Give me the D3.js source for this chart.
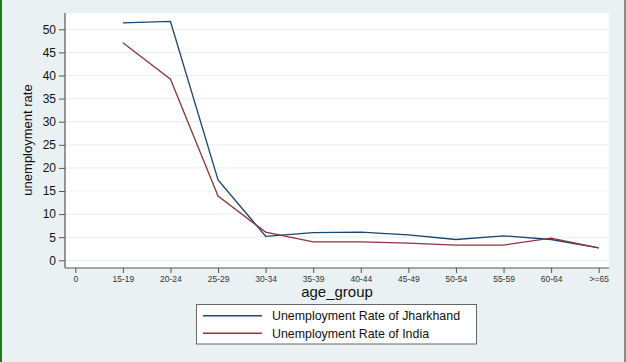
<!DOCTYPE html>
<html>
<head>
<meta charset="utf-8">
<script src="https://cdn.jsdelivr.net/npm/d3@7"></script>
<style>
body{margin:0;padding:0;background:#fff;}
svg{display:block;font-family:"Liberation Sans",Arial,sans-serif;}
</style>
</head>
<body>
<script>
// age groups on the x axis ("0" is the empty first tick)
var tickLabels = ["0","15-19","20-24","25-29","30-34","35-39","40-44","45-49","50-54","55-59","60-64",">=65"];
var groups = ["15-19","20-24","25-29","30-34","35-39","40-44","45-49","50-54","55-59","60-64",">=65"];
var jharkhand = [51.4,51.7,17.4,5.2,6.0,6.1,5.5,4.5,5.3,4.5,2.7];
var india = [47.1,39.2,13.9,6.1,4.0,4.0,3.7,3.3,3.3,4.8,2.7];
var yTicks = [0,5,10,15,20,25,30,35,40,45,50];
var seriesNames = ["Unemployment Rate of Jharkhand","Unemployment Rate of India"];
var colors = ["#1a476f","#90353b"];

var width = 626, height = 362;
var plot = {left:65, right:609, top:13, bottom:268};

var svg = d3.select("body").append("svg")
    .attr("width",width)
    .attr("height",height);

svg.append("rect").attr("width",width).attr("height",height).attr("fill","#eaf1f3");
svg.append("rect").attr("x",0).attr("y",0).attr("width",2).attr("height",height).attr("fill","#1e7a1e");
svg.append("rect").attr("x",624).attr("y",0).attr("width",2).attr("height",height).attr("fill","#8a8a8a");

svg.append("rect")
    .attr("x",plot.left).attr("y",plot.top)
    .attr("width",plot.right-plot.left).attr("height",plot.bottom-plot.top)
    .attr("fill","#fff");

var x = d3.scaleLinear().domain([0,11]).range([75.3,598.7]);
var y = d3.scaleLinear().domain([0,50]).range([260.3,29.3]);

// gridlines
svg.append("g")
    .selectAll("line")
    .data(yTicks).enter()
    .append("line")
    .attr("x1",plot.left+1).attr("x2",plot.right)
    .attr("y1",function(d){return y(d);})
    .attr("y2",function(d){return y(d);})
    .attr("stroke","#eaf1f3")
    .attr("stroke-width",1.2);

// y axis
var yAxis = svg.append("g")
    .attr("transform","translate("+plot.left+",0)")
    .call(d3.axisLeft(y).tickValues(yTicks).tickSize(6).tickPadding(3));
yAxis.select(".domain").attr("d","M0,"+plot.top+"V"+plot.bottom).attr("stroke","#555").attr("stroke-width",1.2);
yAxis.selectAll(".tick line").attr("stroke","#555");
yAxis.selectAll(".tick text").attr("font-size",12).attr("fill","#111");

// x axis
var xAxis = svg.append("g")
    .attr("transform","translate(0,"+plot.bottom+")")
    .call(d3.axisBottom(x).tickValues(d3.range(tickLabels.length))
        .tickFormat(function(i){return tickLabels[i];}).tickSize(5).tickPadding(3));
xAxis.select(".domain").attr("d","M"+plot.left+",0H"+plot.right).attr("stroke","#555").attr("stroke-width",1.2);
xAxis.selectAll(".tick line").attr("stroke","#555");
xAxis.selectAll(".tick text").attr("font-size",8.5).attr("fill","#333");

svg.append("text")
    .attr("x",(plot.left+plot.right)/2).attr("y",297)
    .attr("text-anchor","middle")
    .attr("font-size",15)
    .attr("fill","#111")
    .text("age_group");

svg.append("text")
    .attr("transform","translate(32,140) rotate(-90)")
    .attr("text-anchor","middle")
    .attr("font-size",13)
    .attr("fill","#111")
    .text("unemployment rate");

var line = d3.line()
    .x(function(d,i){return x(i+1);})
    .y(function(d){return y(d);});

[jharkhand,india].forEach(function(s,k){
    svg.append("path")
        .datum(s)
        .attr("d",line)
        .attr("fill","none")
        .attr("stroke",colors[k])
        .attr("stroke-width",1.3);
});

// legend
var legend = svg.append("g");
legend.append("rect")
    .attr("x",196.5).attr("y",304.5).attr("width",280).attr("height",39.5)
    .attr("fill","#fff").attr("stroke","#666").attr("stroke-width",1);
seriesNames.forEach(function(n,k){
    var ly = 315.7+k*17.6;
    legend.append("line")
        .attr("x1",203).attr("x2",262).attr("y1",ly).attr("y2",ly)
        .attr("stroke",colors[k]).attr("stroke-width",1.5);
    legend.append("text")
        .attr("x",272).attr("y",ly+4.3)
        .attr("font-size",12.4).attr("fill","#111")
        .text(n);
});
</script>
</body>
</html>
